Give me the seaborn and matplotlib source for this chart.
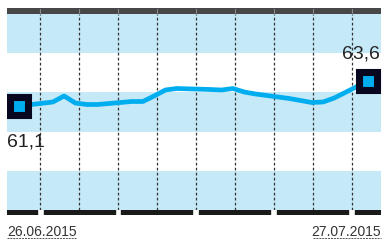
import numpy as np
import pandas as pd
import matplotlib.pyplot as plt
import matplotlib.dates as mdates
from matplotlib.lines import Line2D
import seaborn as sns

# данные (торговые дни)
dates = ["26.06.2015", "29.06.2015", "30.06.2015", "01.07.2015", "02.07.2015",
         "03.07.2015", "06.07.2015", "07.07.2015", "08.07.2015", "09.07.2015",
         "10.07.2015", "13.07.2015", "14.07.2015", "15.07.2015", "16.07.2015",
         "17.07.2015", "20.07.2015", "21.07.2015", "22.07.2015", "23.07.2015",
         "24.07.2015", "27.07.2015"]
values = [61.1, 61.5, 62.1, 61.4, 61.25,
          61.25, 61.55, 61.55, 62.1, 62.7,
          62.85, 62.75, 62.7, 62.85, 62.5,
          62.3, 61.85, 61.65, 61.45, 61.5,
          61.9, 63.6]
first_label = "61,1"
last_label = "63,6"

df = pd.DataFrame({"date": pd.to_datetime(dates, format="%d.%m.%Y"), "value": values})

sns.set_style("white")
plt.rcParams['font.family'] = ['Liberation Sans', 'DejaVu Sans']

BLUE = "#00aeef"
BAND = "#c6e9f8"
NAVY = "#07081f"

fig = plt.figure(figsize=(3.84, 2.4), dpi=100)
W, H = 384, 240
ax = fig.add_axes([7 / W, (H - 210) / H, 374 / W, 196 / H])
top = fig.add_axes([7 / W, (H - 14) / H, 374 / W, 6 / H], sharex=ax)
bot = fig.add_axes([7 / W, (H - 215) / H, 374 / W, 5 / H], sharex=ax)

d0 = df["date"].iloc[0]
day = pd.Timedelta(days=1)
ax.set_xlim(d0 - 1.07 * day, df["date"].iloc[-1] + 1.15 * day)
ylo, yhi = 50.7, 70.3
ax.set_ylim(ylo, yhi)

# полосы фона
edges = np.linspace(ylo, yhi, 6)
for i in range(5):
    if i % 2 == 0:
        ax.axhspan(edges[i], edges[i + 1], color=BAND, lw=0, zorder=0)

# пунктирная сетка
grid = [d0 + (1.87 + 3.46 * k) * day for k in range(9)]
for g in grid:
    ax.axvline(g, color="#333333", lw=0.9, ls=(0, (2.2, 1.8)), zorder=1)

sns.lineplot(data=df, x="date", y="value", ax=ax, color=BLUE, lw=3.4, zorder=3)

ends = df.iloc[[0, -1]]
ax.plot(ends["date"], ends["value"], ls="none", marker="s", ms=13.6,
        mfc=BLUE, mec=NAVY, mew=5.1, zorder=4)

ax.annotate(first_label, (ends["date"].iloc[0], ends["value"].iloc[0]),
            xytext=(-9, -19.5), textcoords="offset points", ha="left", va="top",
            fontsize=14, color="#222222")
ax.annotate(last_label, (ends["date"].iloc[-1], ends["value"].iloc[-1]),
            xytext=(8.5, 13), textcoords="offset points", ha="right", va="bottom",
            fontsize=14, color="#222222")

for a in (ax, top, bot):
    a.set_xticks([])
    a.set_yticks([])
    a.set_xlabel("")
    a.set_ylabel("")
    for s in a.spines.values():
        s.set_visible(False)

# верхняя тёмная полоса
top.set_ylim(0, 1)
top.axhspan(0, 1, color="#474747", lw=0)
for g in grid:
    top.axvline(g, color="#8a8a8a", lw=0.8, ymin=0.2, ymax=0.8)

# нижние сегменты по неделям
bot.set_ylim(0, 1)
xl = ax.get_xlim()
gaps = [mdates.date2num(g) for g in grid[::2]]
half = 0.31
starts = [xl[0]] + [g + half for g in gaps]
stops = [g - half for g in gaps] + [xl[1]]
bot.broken_barh([(a, b - a) for a, b in zip(starts, stops)], (0, 1), color="#1a1a1a")
ax.set_xlim(xl)

# подписи дат
fig.text(7 / W, 4 / H, dates[0], ha="left", va="baseline", fontsize=10, color="#333333")
fig.text(381 / W, 4 / H, dates[-1], ha="right", va="baseline", fontsize=10, color="#333333")
fig.add_artist(Line2D([7 / W, 77 / W], [2 / H, 2 / H], transform=fig.transFigure,
                      color="#555555", lw=0.7, ls=(0, (2, 1))))
fig.add_artist(Line2D([313 / W, 381 / W], [2 / H, 2 / H], transform=fig.transFigure,
                      color="#555555", lw=0.7, ls=(0, (2, 1))))

fig.savefig("out.png", dpi=100)
